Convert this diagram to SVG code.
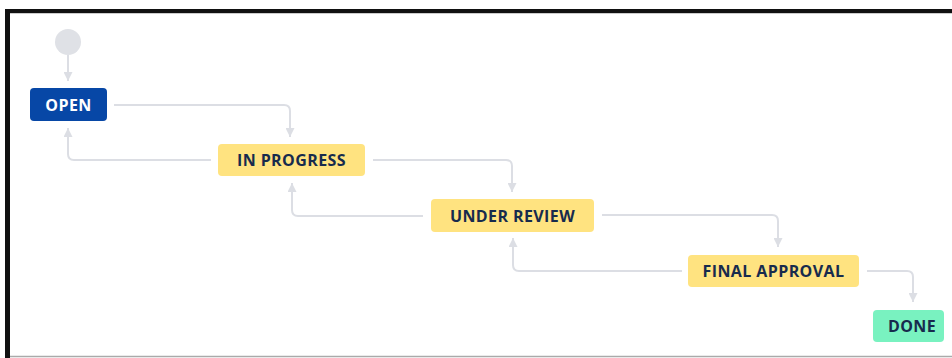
<svg xmlns="http://www.w3.org/2000/svg" width="952" height="358" viewBox="0 0 952 358">
<style>
.conn{fill:none;stroke:#DCDEE4;stroke-width:2}
.lbl{font-family:"Open Sans","Liberation Sans",sans-serif;font-weight:700;font-size:16px;letter-spacing:0.4px;text-anchor:middle;dominant-baseline:central;fill:#172B4D}
.yel{fill:#FFE380}
</style>
<defs>
<marker id="ah" viewBox="0 0 10 10" refX="10" refY="5" markerWidth="9" markerHeight="9" markerUnits="userSpaceOnUse" orient="auto">
<path d="M0,0 L10,5 L0,10 z" fill="#DCDEE4"/>
</marker>
</defs>
<rect x="0" y="0" width="952" height="358" fill="#fff"/>
<line x1="5" y1="11" x2="952" y2="11" stroke="#111" stroke-width="4"/>
<line x1="952" y1="13.5" x2="10" y2="13.5" stroke="#ccc" stroke-width="1"/>
<line x1="7.5" y1="9" x2="7.5" y2="358" stroke="#111" stroke-width="5"/>
<line x1="10" y1="356.5" x2="952" y2="356.5" stroke="#aaa" stroke-width="1.5"/>
<g id="connectors">
<path class="conn" d="M68 55 V81" marker-end="url(#ah)"/>
<path class="conn" d="M114 105 H284 Q290 105 290 111 V137" marker-end="url(#ah)"/>
<path class="conn" d="M211 160 H74 Q68 160 68 154 V128" marker-end="url(#ah)"/>
<path class="conn" d="M373 160 H506 Q512 160 512 166 V192" marker-end="url(#ah)"/>
<path class="conn" d="M423 216 H298 Q292 216 292 210 V183" marker-end="url(#ah)"/>
<path class="conn" d="M602 215 H772 Q778 215 778 221 V247" marker-end="url(#ah)"/>
<path class="conn" d="M682 271 H519 Q513 271 513 265 V238" marker-end="url(#ah)"/>
<path class="conn" d="M867 271 H907 Q913 271 913 277 V302" marker-end="url(#ah)"/>
</g>
<g id="start"><circle cx="68" cy="42" r="13" fill="#DFE1E6"/></g>
<g id="open"><rect x="30" y="88" width="77" height="33" rx="4" fill="#0747A6"/><text class="lbl" x="68.5" y="105" style="fill:#fff">OPEN</text></g>
<g id="inprogress"><rect class="yel" x="218" y="144" width="147" height="32" rx="4"/><text class="lbl" x="291.5" y="160">IN PROGRESS</text></g>
<g id="underreview"><rect class="yel" x="431" y="199" width="163" height="33" rx="4"/><text class="lbl" x="512.5" y="215.5">UNDER REVIEW</text></g>
<g id="finalapproval"><rect class="yel" x="688" y="255" width="171" height="32" rx="4"/><text class="lbl" x="773.5" y="271">FINAL APPROVAL</text></g>
<g id="done"><rect x="873" y="310" width="71" height="32" rx="4" fill="#79F2C0"/><text class="lbl" x="912" y="326">DONE</text></g>
</svg>
